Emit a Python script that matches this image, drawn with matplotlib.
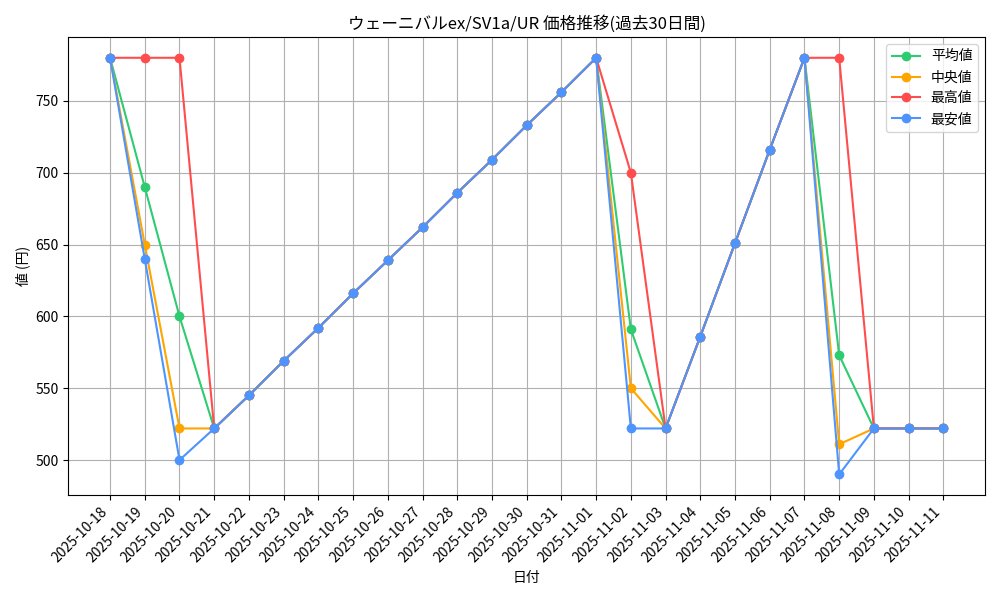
import pandas as pd
import matplotlib
matplotlib.use("Agg")
import matplotlib.pyplot as plt

plt.rcParams['font.family'] = ['Noto Sans CJK JP', 'DejaVu Sans']

dates = pd.date_range('2025-10-18', '2025-11-11').strftime('%Y-%m-%d').tolist()
ramp1 = [545, 569, 592, 616, 639, 662, 686, 709, 733, 756, 780]
mean_v = [780, 690, 600, 522] + ramp1 + [591, 522, 586, 651, 716, 780, 573, 522, 522, 522]
median_v = [780, 650, 522, 522] + ramp1 + [550, 522, 586, 651, 716, 780, 511, 522, 522, 522]
max_v = [780, 780, 780, 522] + ramp1 + [700, 522, 586, 651, 716, 780, 780, 522, 522, 522]
min_v = [780, 640, 500, 522] + ramp1 + [522, 522, 586, 651, 716, 780, 490, 522, 522, 522]

series = [
    ('平均値', mean_v, '#2ecc71'),
    ('中央値', median_v, '#ffa500'),
    ('最高値', max_v, '#ff4d4d'),
    ('最安値', min_v, '#4d94ff'),
]

fig, ax = plt.subplots(figsize=(10, 6), dpi=100)
x = range(len(dates))
for label, vals, color in series:
    ax.plot(x, vals, marker='o', color=color, label=label)

ax.set_xticks(list(x))
ax.set_xticklabels(dates, rotation=45, ha='right')
ax.set_xlabel('日付')
ax.set_ylabel('値 (円)')
ax.set_title('ウェーニバルex/SV1a/UR 価格推移(過去30日間)')
ax.legend(loc='upper right')
ax.grid(True)
fig.tight_layout()
fig.savefig('out.png')
